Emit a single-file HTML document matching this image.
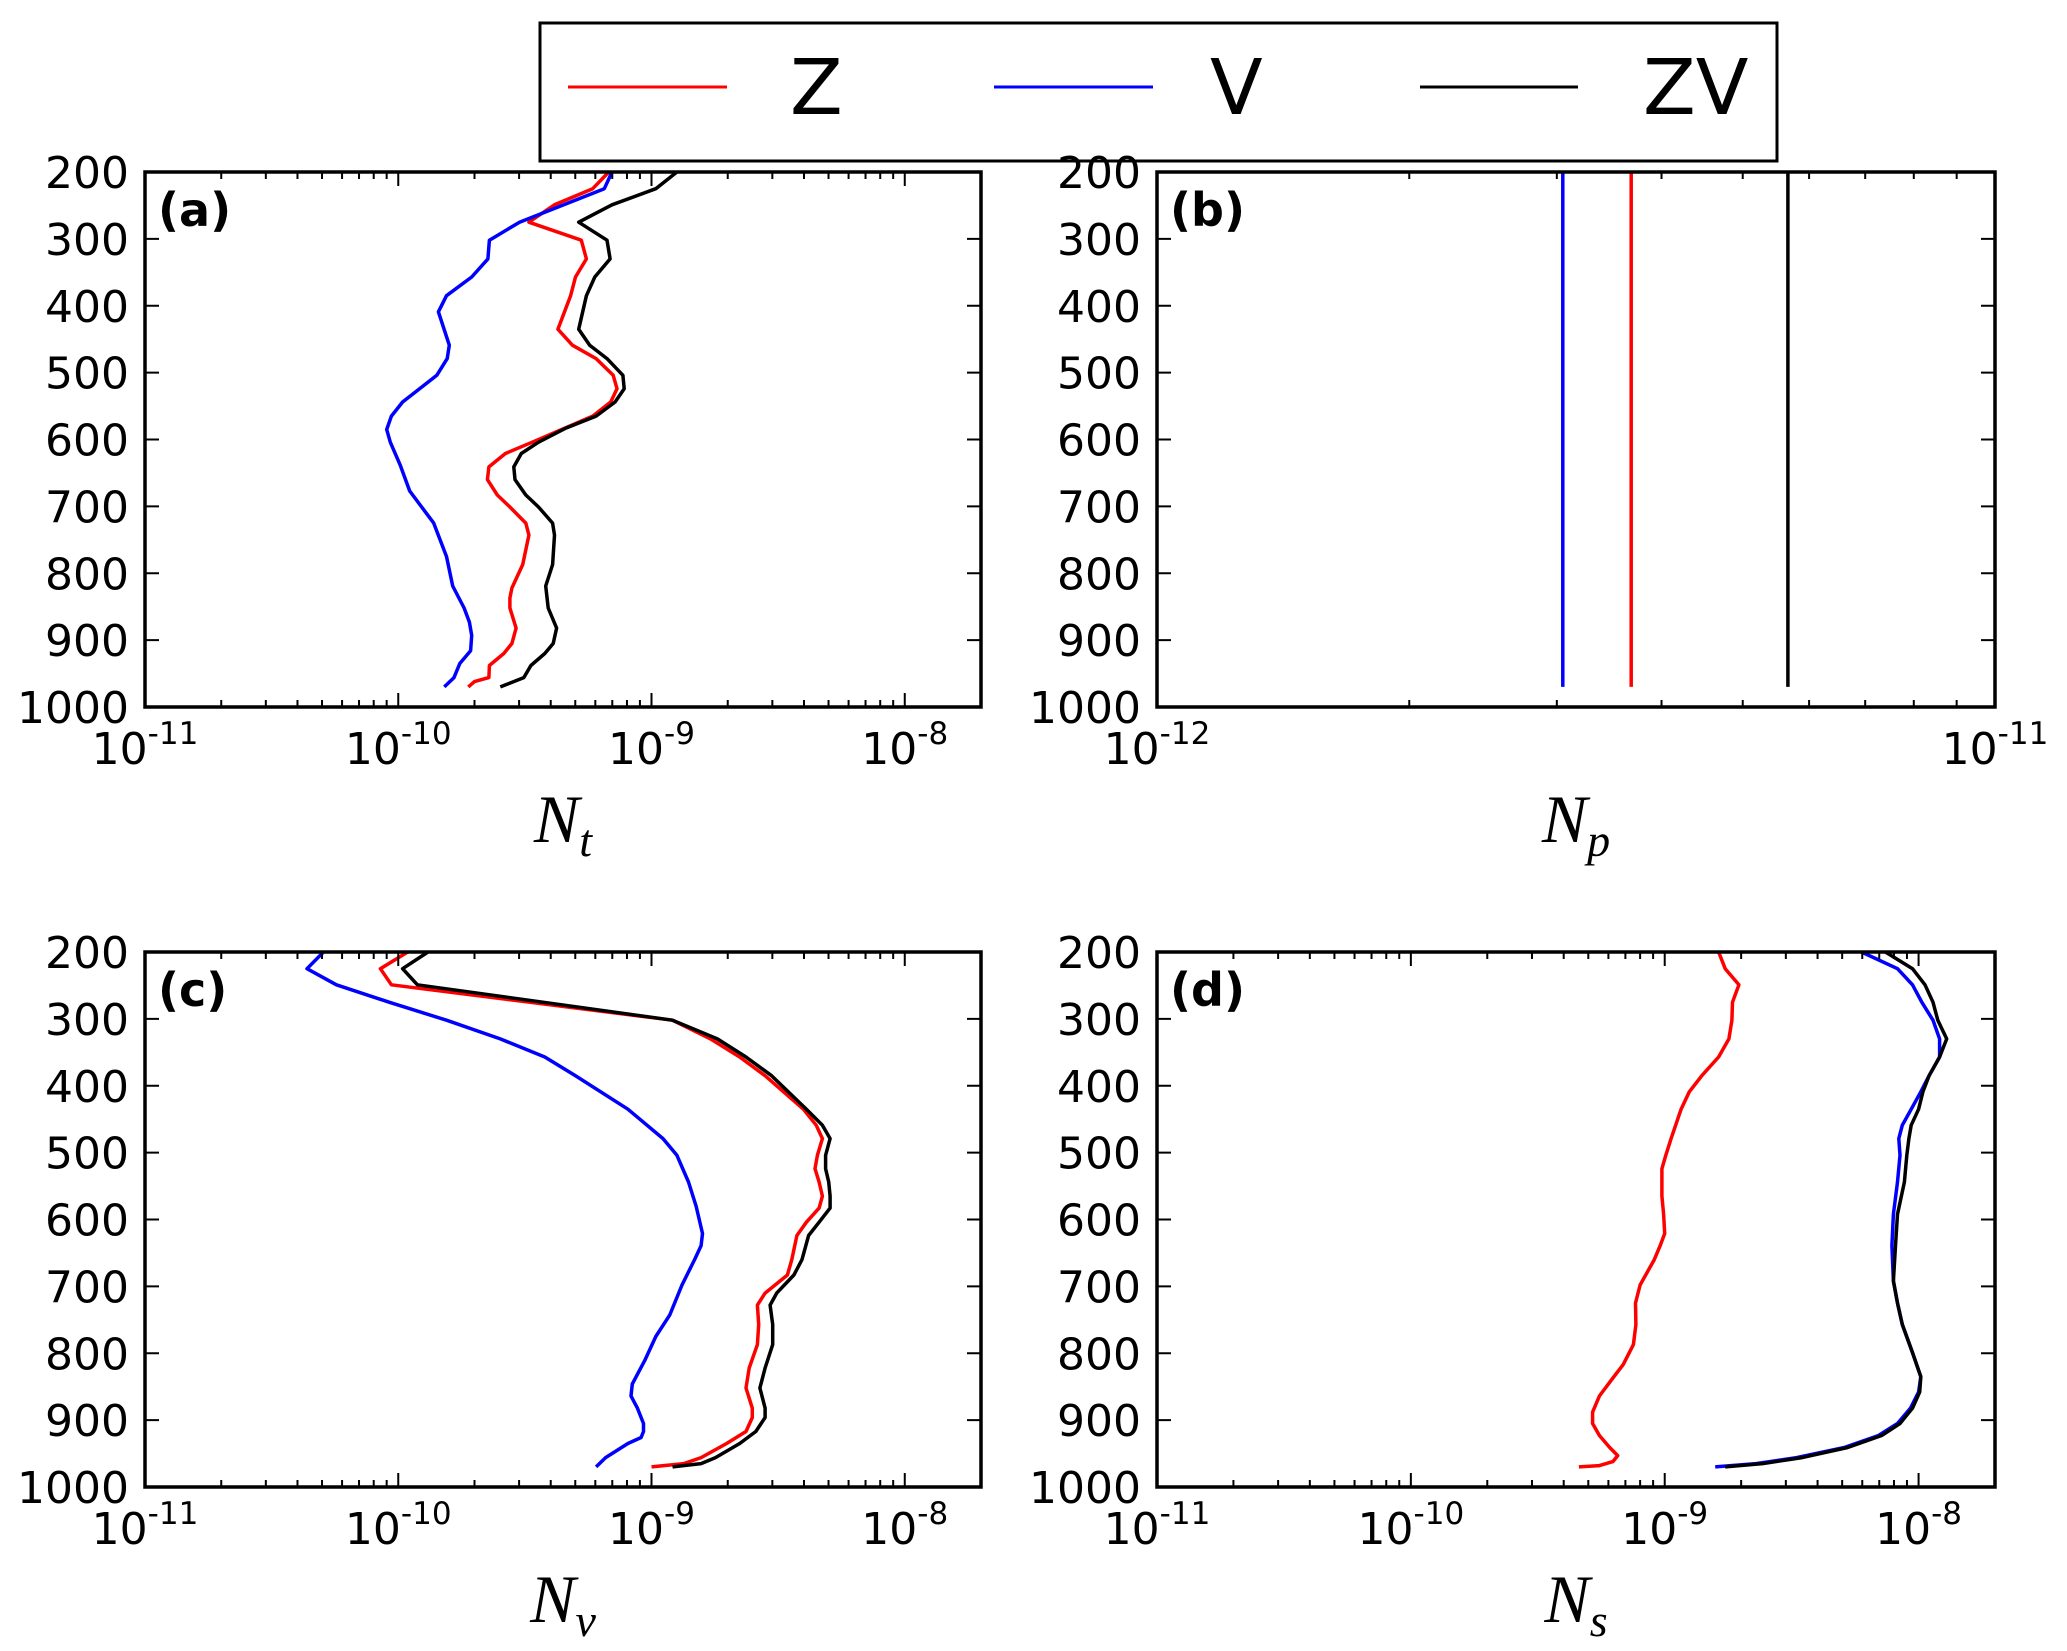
<!DOCTYPE html>
<html><head><meta charset="utf-8"><style>
html,body{margin:0;padding:0;background:#fff;}
svg{display:block;}
text{font-family:"DejaVu Sans","Liberation Sans",sans-serif;}
</style></head>
<body>
<svg id="fig" width="2067" height="1651" viewBox="0 0 2067 1651" xmlns="http://www.w3.org/2000/svg">
<g>
<rect x="540" y="23" width="1237" height="138" fill="#fff" stroke="#000" stroke-width="3"/>
<line x1="568" y1="87" x2="727" y2="87" stroke="#f00" stroke-width="3"/>
<text x="790" y="114" font-size="77">Z</text>
<line x1="994" y1="87" x2="1153" y2="87" stroke="#00f" stroke-width="3"/>
<text x="1210" y="114" font-size="77">V</text>
<line x1="1420" y1="87" x2="1578" y2="87" stroke="#000" stroke-width="3"/>
<text x="1643" y="114" font-size="77">ZV</text>
</g>
</svg>
<script>
// ---- data ----
const yTicks = [200,300,400,500,600,700,800,900,1000];
// panel (a) N_t
const aZp = [200,225,249,275,302,330,357,385,435,459,479,504,524,544,565,604,621,641,660,683,701,725,743,787,822,837,852,882,905,920,938,956,962,970];
const aZv = [6.78e-10,5.86e-10,4.14e-10,3.28e-10,5.28e-10,5.53e-10,5.01e-10,4.79e-10,4.27e-10,4.87e-10,6.04e-10,7.06e-10,7.31e-10,6.90e-10,5.86e-10,3.38e-10,2.65e-10,2.28e-10,2.25e-10,2.46e-10,2.76e-10,3.19e-10,3.28e-10,3.10e-10,2.81e-10,2.76e-10,2.76e-10,2.92e-10,2.81e-10,2.61e-10,2.29e-10,2.28e-10,2.0e-10,1.89e-10];
const aVp = [200,225,275,302,330,357,385,409,459,479,504,544,565,585,604,639,677,725,775,819,852,873,893,916,935,956,970];
const aVv = [6.98e-10,6.51e-10,3.01e-10,2.29e-10,2.26e-10,1.95e-10,1.55e-10,1.44e-10,1.59e-10,1.56e-10,1.42e-10,1.04e-10,9.4e-11,9.0e-11,9.3e-11,1.02e-10,1.11e-10,1.38e-10,1.55e-10,1.64e-10,1.82e-10,1.91e-10,1.95e-10,1.93e-10,1.75e-10,1.66e-10,1.52e-10];
const aZVp = [200,225,249,275,302,330,357,385,435,459,479,504,524,544,565,583,604,621,641,660,683,701,725,743,787,819,852,882,905,920,938,956,970];
const aZVv = [1.26e-9,1.04e-9,6.98e-10,5.16e-10,6.67e-10,6.86e-10,5.97e-10,5.53e-10,5.16e-10,5.70e-10,6.67e-10,7.71e-10,7.80e-10,7.18e-10,6.04e-10,4.59e-10,3.58e-10,3.06e-10,2.86e-10,2.89e-10,3.19e-10,3.58e-10,4.07e-10,4.14e-10,4.07e-10,3.82e-10,3.91e-10,4.22e-10,4.09e-10,3.79e-10,3.34e-10,3.13e-10,2.53e-10];
// panel (b) N_p
const bP = [200,970];
const bZ = 3.68e-12, bV = 3.05e-12, bZV = 5.66e-12;
// panel (c) N_v
const cZp = [200,225,249,302,330,357,385,435,459,479,504,524,544,565,583,604,624,660,683,710,728,757,787,822,852,882,896,917,935,956,965,970];
const cZv = [1.09e-10,8.5e-11,9.4e-11,1.21e-9,1.71e-9,2.23e-9,2.81e-9,3.98e-9,4.47e-9,4.73e-9,4.52e-9,4.42e-9,4.59e-9,4.73e-9,4.59e-9,4.09e-9,3.75e-9,3.58e-9,3.44e-9,2.81e-9,2.62e-9,2.65e-9,2.62e-9,2.43e-9,2.36e-9,2.50e-9,2.50e-9,2.36e-9,1.98e-9,1.57e-9,1.34e-9,1.0e-9];
const cZVp = [200,225,249,302,330,357,385,435,459,479,504,524,544,565,583,604,624,660,683,710,728,757,787,822,852,882,896,917,935,956,965,970];
const cZVv = [1.31e-10,1.04e-10,1.19e-10,1.21e-9,1.82e-9,2.36e-9,2.98e-9,4.09e-9,4.73e-9,5.07e-9,4.87e-9,4.87e-9,5.01e-9,5.07e-9,5.07e-9,4.59e-9,4.17e-9,3.93e-9,3.65e-9,3.12e-9,2.94e-9,3.01e-9,3.01e-9,2.81e-9,2.68e-9,2.81e-9,2.81e-9,2.58e-9,2.23e-9,1.79e-9,1.57e-9,1.21e-9];
const cVp = [200,225,249,275,302,330,357,385,435,479,504,544,580,621,639,660,698,743,775,811,846,864,882,905,917,926,935,956,970];
const cVv = [5.07e-11,4.36e-11,5.70e-11,9.2e-11,1.55e-10,2.53e-10,3.79e-10,5.01e-10,8.07e-10,1.11e-9,1.26e-9,1.40e-9,1.50e-9,1.59e-9,1.57e-9,1.48e-9,1.32e-9,1.18e-9,1.04e-9,9.4e-10,8.4e-10,8.3e-10,8.8e-10,9.3e-10,9.3e-10,9.1e-10,8.07e-10,6.59e-10,6.04e-10];
// panel (d) N_s
const dZp = [200,225,249,275,302,330,357,385,409,435,479,504,524,565,592,621,639,660,698,725,757,787,817,837,864,888,905,923,941,953,962,968,970];
const dZv = [1.63e-9,1.73e-9,1.96e-9,1.85e-9,1.84e-9,1.79e-9,1.63e-9,1.40e-9,1.25e-9,1.16e-9,1.06e-9,1.01e-9,9.75e-10,9.75e-10,9.9e-10,1.0e-9,9.6e-10,9.1e-10,8.0e-10,7.67e-10,7.7e-10,7.53e-10,6.86e-10,6.25e-10,5.53e-10,5.2e-10,5.2e-10,5.53e-10,6.07e-10,6.53e-10,6.25e-10,5.53e-10,4.59e-10];
const dVp = [200,225,249,275,302,330,357,385,409,435,459,479,504,544,592,639,692,725,757,799,835,858,882,905,923,941,956,965,970];
const dVv = [5.96e-9,8.26e-9,9.46e-9,1.03e-8,1.14e-8,1.21e-8,1.21e-8,1.10e-8,1.02e-8,9.35e-9,8.63e-9,8.36e-9,8.45e-9,8.26e-9,7.96e-9,7.85e-9,7.96e-9,8.26e-9,8.63e-9,9.46e-9,1.02e-8,1.0e-8,9.29e-9,8.26e-9,6.95e-9,5.10e-9,3.31e-9,2.29e-9,1.58e-9];
const dZVp = [200,225,249,275,302,330,357,385,409,435,459,479,504,544,592,639,692,725,757,799,835,858,882,905,923,941,956,965,970];
const dZVv = [7.40e-9,9.46e-9,1.06e-8,1.14e-8,1.19e-8,1.29e-8,1.21e-8,1.10e-8,1.04e-8,1.0e-8,9.35e-9,9.16e-9,8.99e-9,8.79e-9,8.26e-9,8.11e-9,7.96e-9,8.26e-9,8.63e-9,9.46e-9,1.02e-8,1.01e-8,9.46e-9,8.45e-9,7.16e-9,5.26e-9,3.48e-9,2.43e-9,1.73e-9];

const NS = "http://www.w3.org/2000/svg";
const svg = document.getElementById('fig');
function mk(tag, attrs, parent){
  const e = document.createElementNS(NS, tag);
  for (const k in attrs) e.setAttribute(k, attrs[k]);
  (parent||svg).appendChild(e);
  return e;
}

function panel(id, L, R, T, B, xmin, xmax, decades, letter, labelSub, series){
  const g = mk('g', {});
  
  
  const lmin = Math.log10(xmin), lmax = Math.log10(xmax);
  const X = v => L + (Math.log10(v) - lmin) / (lmax - lmin) * (R - L);
  const Y = p => T + (p - 200) / 800 * (B - T);
  series.forEach(s => {
    const pts = s.p.map((p,i) => X(s.v[i]).toFixed(1) + ',' + Y(p).toFixed(1)).join(' ');
    const pl = mk('polyline', {points: pts, fill: 'none', stroke: s.c, 'stroke-width': 3.5, 'stroke-linejoin': 'round'}, g);
    
    
  });
  const fr = mk('rect', {x: L, y: T, width: R - L, height: B - T, fill: 'none', stroke: '#000', 'stroke-width': 3.5}, g);
  
  
  for (let d = Math.floor(lmin); d <= Math.ceil(lmax); d++) {
    for (let m = 1; m <= 9; m++) {
      const v = m * Math.pow(10, d);
      const lv = Math.log10(v);
      if (lv < lmin - 1e-9 || lv > lmax + 1e-9) continue;
      const x = X(v);
      const len = m === 1 ? 14 : 7;
      const t1 = mk('line', {x1: x, y1: B, x2: x, y2: B - len, stroke: '#000', 'stroke-width': 2}, g);
      
      
      const t2 = mk('line', {x1: x, y1: T, x2: x, y2: T + len, stroke: '#000', 'stroke-width': 2}, g);
      
      
    }
  }
  decades.forEach(d => {
    const x = X(Math.pow(10, d));
    const t = mk('text', {x: x, y: B + 57, 'font-size': 44, 'text-anchor': 'middle'}, g);
    
    
    const a = mk('tspan', {}, t); a.textContent = '10';
    const b = mk('tspan', {dy: -20, 'font-size': 31}, t); b.textContent = String(d);
  });
  yTicks.forEach(p => {
    const y = Y(p);
    const t1 = mk('line', {x1: L, y1: y, x2: L + 14, y2: y, stroke: '#000', 'stroke-width': 2}, g);
    
    
    const t2 = mk('line', {x1: R, y1: y, x2: R - 14, y2: y, stroke: '#000', 'stroke-width': 2}, g);
    
    
    const lb = mk('text', {x: L - 16, y: y + 16, 'font-size': 44, 'text-anchor': 'end'}, g);
    
    
    lb.textContent = String(p);
  });
  const pl = mk('text', {x: L + 13, y: T + 54, 'font-size': 46, 'font-weight': 'bold'}, g);
  
  
  pl.textContent = '(' + letter + ')';
  const at = mk('text', {x: (L + R) / 2, y: B + 135, 'font-size': 68, 'font-style': 'italic', 'text-anchor': 'middle', style: 'font-family:"Liberation Serif","DejaVu Serif",serif'}, g);
  
  
  const n1 = mk('tspan', {}, at); n1.textContent = 'N';
  const n2 = mk('tspan', {dy: 14, 'font-size': 46}, at); n2.textContent = labelSub;
}

panel('a', 145, 981, 172, 707, 1e-11, 2e-8, [-11,-10,-9,-8], 'a', 't', [
  {n:'z', c:'#f00', p:aZp, v:aZv},
  {n:'v', c:'#00f', p:aVp, v:aVv},
  {n:'zv', c:'#000', p:aZVp, v:aZVv}]);
panel('b', 1157, 1995, 172, 707, 1e-12, 1e-11, [-12,-11], 'b', 'p', [
  {n:'v', c:'#00f', p:bP, v:[bV,bV]},
  {n:'z', c:'#f00', p:bP, v:[bZ,bZ]},
  {n:'zv', c:'#000', p:bP, v:[bZV,bZV]}]);
panel('c', 145, 981, 952, 1487, 1e-11, 2e-8, [-11,-10,-9,-8], 'c', 'v', [
  {n:'v', c:'#00f', p:cVp, v:cVv},
  {n:'z', c:'#f00', p:cZp, v:cZv},
  {n:'zv', c:'#000', p:cZVp, v:cZVv}]);
panel('d', 1157, 1995, 952, 1487, 1e-11, 2e-8, [-11,-10,-9,-8], 'd', 's', [
  {n:'z', c:'#f00', p:dZp, v:dZv},
  {n:'v', c:'#00f', p:dVp, v:dVv},
  {n:'zv', c:'#000', p:dZVp, v:dZVv}]);
</script>
</body></html>
